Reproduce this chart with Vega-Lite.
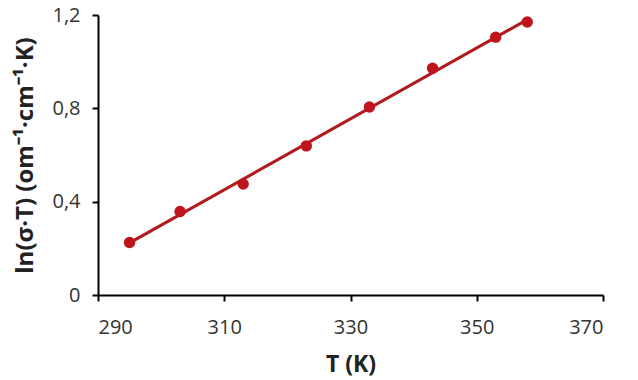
{
  "$schema": "https://vega.github.io/schema/vega-lite/v6.json",
  "width": 505,
  "height": 280,
  "autosize": {"type": "none"},
  "padding": {"left": 98, "top": 15, "right": 35, "bottom": 85},
  "background": "white",
  "config": {
    "view": {"stroke": null},
    "axis": {
      "grid": false,
      "domainColor": "black",
      "domainWidth": 2,
      "tickColor": "black",
      "tickWidth": 2,
      "tickSize": 6,
      "labelFont": "Open Sans",
      "labelFontSize": 20,
      "labelColor": "#333333",
      "titleFont": "Open Sans",
      "titleFontSize": 23,
      "titleFontWeight": "bold",
      "titleColor": "#222222"
    }
  },
  "data": {
    "values": [
      {"T": 295, "v": 0.225},
      {"T": 303, "v": 0.358},
      {"T": 313, "v": 0.476},
      {"T": 323, "v": 0.639},
      {"T": 333, "v": 0.806},
      {"T": 343, "v": 0.972},
      {"T": 353, "v": 1.105},
      {"T": 358, "v": 1.17}
    ]
  },
  "encoding": {
    "x": {
      "field": "T",
      "type": "quantitative",
      "scale": {"domain": [290, 370], "nice": false, "zero": false},
      "axis": {"values": [290, 310, 330, 350, 370], "title": "T (K)", "titlePadding": 16, "labelPadding": 16}
    },
    "y": {
      "field": "v",
      "type": "quantitative",
      "scale": {"domain": [0, 1.2], "nice": false},
      "axis": {
        "values": [0, 0.4, 0.8, 1.2],
        "labelExpr": "datum.value == 0 ? '0' : replace(format(datum.value, '.1f'), '.', ',')",
        "title": "ln(σ·T) (om⁻¹·cm⁻¹·K)",
        "titleFontSize": 24,
        "titlePadding": 14,
        "labelPadding": 12
      }
    }
  },
  "layer": [
    {
      "transform": [{"regression": "v", "on": "T", "extent": [295, 358]}],
      "mark": {"type": "line", "color": "#B2191E", "strokeWidth": 3}
    },
    {
      "mark": {"type": "circle", "color": "#C0141C", "opacity": 1, "size": 130}
    }
  ]
}
